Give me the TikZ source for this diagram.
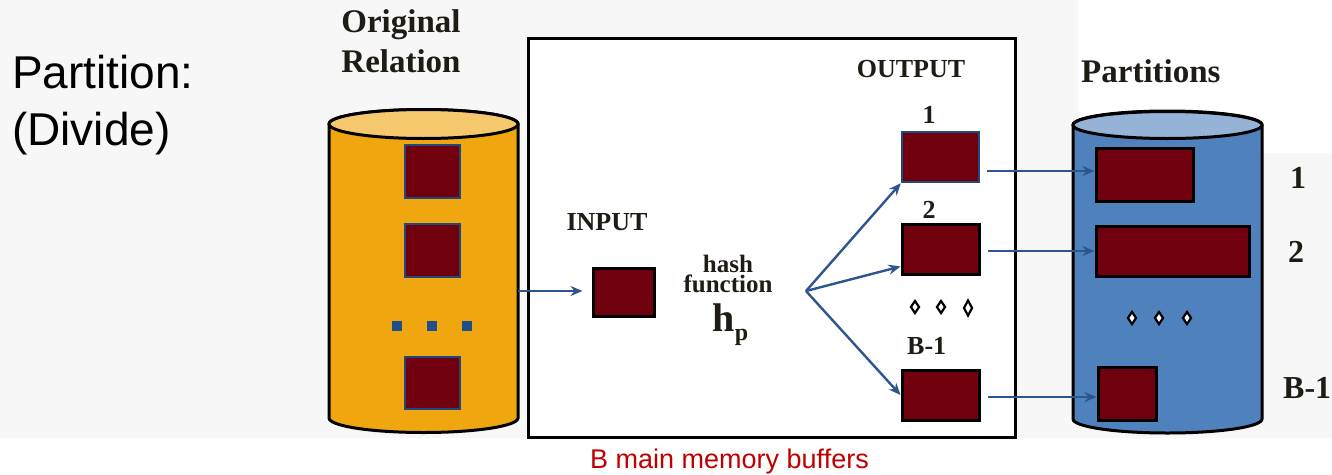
\documentclass[tikz,border=0pt]{standalone}
\usepackage{fontspec}
\setmainfont{Liberation Serif}
\newfontfamily\arialf{Liberation Sans}
\usetikzlibrary{arrows.meta,shapes.geometric,calc}
\definecolor{bggray}{HTML}{F7F7F7}
\definecolor{orgbody}{HTML}{F0A70F}
\definecolor{orgtop}{HTML}{F6C86E}
\definecolor{bluebody}{HTML}{4F81BD}
\definecolor{bluetop}{HTML}{95B3D7}
\definecolor{dred}{HTML}{70000E}
\definecolor{bufblue}{HTML}{1F497D}
\definecolor{arrblue}{HTML}{2E5590}
\definecolor{dotblue}{HTML}{1F4E8C}
\definecolor{txtred}{HTML}{C00000}
\definecolor{txtdark}{HTML}{1E1C14}
\tikzset{
  buf/.style={draw=bufblue, fill=dred, line width=2.5pt, inner sep=0pt},
  blk/.style={draw=black, fill=dred, line width=3pt, inner sep=0pt},
  dotsq/.style={fill=dotblue, minimum width=10pt, minimum height=10pt, inner sep=0pt},
  dia/.style={diamond, draw=black, fill=white, line width=2.2pt, inner sep=0pt, minimum width=9pt, minimum height=13pt},
  arr/.style={draw=arrblue, line width=2.4pt, -{Stealth[length=12pt,width=10pt,inset=4pt]}},
  lbl/.style={inner sep=0pt, anchor=base, text=txtdark, font=\bfseries\fontsize{26}{28}\selectfont},
  biglbl/.style={inner sep=0pt, anchor=base, text=txtdark, font=\bfseries\fontsize{33}{36}\selectfont},
  sidelbl/.style={inner sep=0pt, anchor=base, text=txtdark, font=\bfseries\fontsize{32}{34}\selectfont},
  cyl/.style={draw=black, line width=3pt}
}
\begin{document}
\begin{tikzpicture}[x=1pt,y=-1pt]
\useasboundingbox (0,0) rectangle (1332,474);
% background
\fill[white] (0,0) rectangle (1332,474);
\fill[bggray] (0,0) -- (1078,0) -- (1078,153) -- (1332,153) -- (1332,438) -- (0,438) -- cycle;
% title
\node[inner sep=0pt, anchor=base west, font=\arialf\fontsize{46}{50}\selectfont] (t1) at (12,88) {Partition:};
\node[inner sep=0pt, anchor=base west, font=\arialf\fontsize{46}{50}\selectfont] (t2) at (12,145) {(Divide)};
% main memory box
\node[draw=black, fill=white, line width=3pt, minimum width=487pt, minimum height=399pt, inner sep=0pt] (mem) at (771.5,237.5) {};
\node[inner sep=0pt, anchor=base west, text=txtred, font=\arialf\fontsize{27}{30}\selectfont] (memlbl) at (590,468) {B main memory buffers};
% left cylinder
\filldraw[cyl, fill=orgbody] (329,124) -- (329,418) arc[start angle=180,end angle=360,x radius=94.5pt,y radius=14.5pt] -- (518,124) arc[start angle=0,end angle=180,x radius=94.5pt,y radius=14.5pt] -- cycle;
\filldraw[cyl, fill=orgtop] (423.5,124) ellipse[x radius=94.5pt,y radius=14.5pt];
\node[biglbl] (orig1) at (401,32) {Original};
\node[biglbl] (orig2) at (401,72) {Relation};
\node[buf, minimum width=55pt, minimum height=53pt] (s1) at (432.5,171.5) {};
\node[buf, minimum width=55pt, minimum height=53pt] (s2) at (432.5,250.5) {};
\node[buf, minimum width=55pt, minimum height=52pt] (s3) at (432.5,383) {};
\node[dotsq] (d1) at (397,326) {};
\node[dotsq] (d2) at (432,326) {};
\node[dotsq] (d3) at (467,326) {};
% right cylinder
\filldraw[cyl, fill=bluebody] (1073,125) -- (1073,419) arc[start angle=180,end angle=360,x radius=94.5pt,y radius=14pt] -- (1262,125) arc[start angle=0,end angle=180,x radius=94.5pt,y radius=14pt] -- cycle;
\filldraw[cyl, fill=bluetop] (1167.5,125) ellipse[x radius=94.5pt,y radius=13.5pt];
\node[biglbl, anchor=base west] (parts) at (1081,82) {Partitions};
\node[blk, minimum width=97pt, minimum height=53pt] (p1) at (1144.5,174.5) {};
\node[blk, minimum width=153pt, minimum height=50pt] (p2) at (1172.5,251) {};
\node[blk, minimum width=58pt, minimum height=53pt] (p3) at (1127,393.5) {};
\node[dia] (rd1) at (1132,318) {};
\node[dia] (rd2) at (1159,318) {};
\node[dia] (rd3) at (1187,318) {};
\node[sidelbl] (r1) at (1298,188) {1};
\node[sidelbl] (r2) at (1296,262) {2};
\node[sidelbl, anchor=base west] (r3) at (1283,398) {B-1};
% inside memory
\node[lbl] (inlbl) at (607,230) {INPUT};
\node[blk, minimum width=61pt, minimum height=48pt] (inbox) at (623.5,292) {};
\node[lbl, font=\bfseries\fontsize{25}{27}\selectfont] (hash) at (728,272) {hash};
\node[lbl, font=\bfseries\fontsize{25}{27}\selectfont] (func) at (728,292) {function};
\node[inner sep=0pt, anchor=base west, text=txtdark, font=\bfseries\fontsize{40}{44}\selectfont] (hh) at (712,331) {h};
\node[inner sep=0pt, anchor=base west, text=txtdark, font=\bfseries\fontsize{24}{26}\selectfont] (hp) at (hh.base east) [yshift=-9pt] {p};
\node[lbl] (outlbl) at (911,77) {OUTPUT};
\node[buf, minimum width=77pt, minimum height=50pt] (o1) at (940.5,157) {};
\node[blk, minimum width=77pt, minimum height=50pt] (o2) at (940.5,249) {};
\node[blk, minimum width=77pt, minimum height=50pt] (o3) at (940.5,395) {};
\node[lbl] (l1) at (929,123) {1};
\node[lbl] (l2) at (929,218) {2};
\node[lbl, anchor=base west] (l3) at (907,354) {B-1};
\node[dia] (md1) at (915,307) {};
\node[dia] (md2) at (941,307) {};
\node[dia, minimum height=16pt] (md3) at (968,308) {};
% connectors
\coordinate (lout) at (518,291);
\draw[arr, shorten >=9pt] (lout) -- (lout -| inbox.west);
\coordinate (fan) at (806,291);
\draw[arr] (fan) -- (o1.south west);
\draw[arr] (fan) -- ([yshift=9pt]o2.south west);
\draw[arr] (fan) -- (o3.west);
\coordinate (a1) at ([xshift=7pt,yshift=-14pt]o1.east);
\coordinate (a2) at ([xshift=7pt,yshift=-2pt]o2.east);
\coordinate (a3) at ([xshift=7pt,yshift=-2pt]o3.east);
\draw[arr] (a1) -- (a1 -| p1.west);
\draw[arr] (a2) -- (a2 -| p2.west);
\draw[arr] (a3) -- (a3 -| p3.west);
\end{tikzpicture}
\end{document}
